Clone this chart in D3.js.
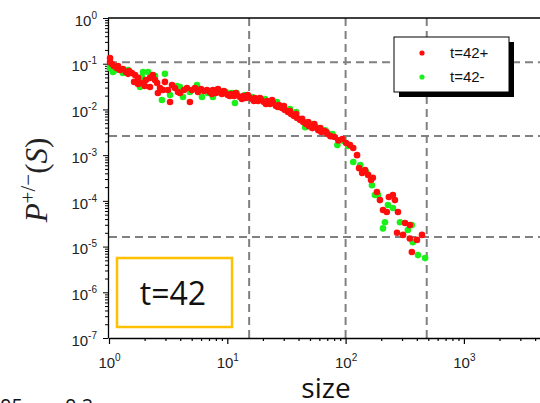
<!DOCTYPE html>
<html><head><meta charset="utf-8">
<script src="https://cdn.jsdelivr.net/npm/d3@7"></script>
<style>body{margin:0;background:#fff} svg{display:block}</style>
</head><body>
<svg id="c" width="540" height="403"></svg>
<script>
// ---- data ----
const plusSize = [1.02,1.02,1.06,1.10,1.17,1.24,1.31,1.39,1.48,1.56,1.66,1.63,1.76,1.86,2.01,2.22,2.35,2.45,2.55,2.59,2.70,2.86,2.97,3.15,3.28,3.41,3.61,3.83,3.98,4.30,4.56,4.83,5.03,5.33,5.65,5.99,6.35,6.73,7.13,7.56,8.02,8.50,9.01,9.55,10.1,10.7,11.4,12.0,12.8,13.6,14.4,15.2,16.2,17.1,18.2,19.3,20.4,21.7,23.0,24.4,25.8,27.3,29.0,30.7,32.6,34.6,36.7,38.9,41.3,43.8,46.4,49.2,52.3,55.5,58.8,62.4,66.2,70.2,74.4,80.5,86.9,93.9,101,109,116,125,130,138,146,155,164,170,184,195,207,223,232,251,261,277,272,306,318,349,349,401,442,363,
  7.41,8.34,9.37,10.5,11.8,13.3,14.9,16.8,18.9,21.2,23.9,26.8,30.1,33.9,38.2,42.9,48.3,54.4,61.2,68.8,1.19,1.45,2.05,1.76,2.22];
const plusProb = [0.133,0.109,0.098,0.089,0.080,0.073,0.0766,0.066,0.0692,0.0626,0.0566,0.040,0.036,0.0378,0.0325,0.0309,0.0566,0.044,0.0378,0.0229,0.0294,0.0266,0.040,0.0266,0.0145,0.0342,0.0294,0.024,0.0229,0.0266,0.0294,0.0145,0.0266,0.0294,0.024,0.0279,0.0253,0.0266,0.024,0.0266,0.0229,0.024,0.0217,0.0229,0.0207,0.0217,0.0196,0.0207,0.0187,0.0196,0.0178,0.0187,0.0169,0.0178,0.0153,0.0161,0.0145,0.0153,0.0131,0.0138,0.0119,0.0125,0.0107,0.0097,0.0088,0.0079,0.0072,0.0065,0.0059,0.0053,0.0048,0.0043,0.0039,0.0041,0.0035,0.0032,0.00337,0.0029,0.0026,0.00249,0.0021,0.00225,0.00184,0.00166,0.00143,0.00100,5.2e-4,4.06e-4,4.7e-4,3.7e-4,2.85e-4,3.2e-4,1.56e-4,1.04e-4,6.3e-5,5.7e-5,1.21e-4,1.34e-4,1.04e-4,5.7e-5,2.0e-5,1.8e-5,3.27e-5,2.95e-5,1.5e-5,1.4e-5,1.8e-5,7.6e-6,
  0.0217,0.0279,0.0253,0.0196,0.0229,0.0169,0.0207,0.0153,0.0178,0.0131,0.0161,0.0113,0.0119,0.0092,0.0079,0.0062,0.0053,0.0048,0.0039,0.0032,0.089,0.060,0.044,0.049,0.049];
const minusSize = [1.02,1.08,1.15,1.31,1.45,1.83,1.90,1.94,2.14,2.45,2.80,2.97,3.28,3.75,3.98,4.22,4.83,5.54,6.11,6.86,7.56,8.67,9.74,10.9,11.6,12.0,14.1,16.2,18.2,20.8,23.9,26.3,29.6,33.9,38.2,45.5,47.3,52.3,58.8,67.5,77.4,85.2,95.7,105,116,133,149,167,177,188,215,207,228,251,288,336,370,409,470,363];
const minusProb = [0.080,0.066,0.073,0.0626,0.073,0.0309,0.0512,0.066,0.066,0.054,0.0161,0.060,0.0207,0.0325,0.0309,0.0187,0.024,0.0342,0.0187,0.0229,0.0187,0.0253,0.024,0.0229,0.0138,0.0229,0.0207,0.0187,0.0169,0.0169,0.0145,0.0145,0.0119,0.0102,0.0088,0.0041,0.0050,0.0048,0.0039,0.0035,0.0029,0.00166,0.00204,0.00158,7.1e-4,6.1e-4,4.3e-4,2.2e-4,1.34e-4,1.34e-4,3.4e-5,2.5e-5,8.1e-5,7.0e-5,3.4e-5,2.3e-5,1.25e-5,6.5e-6,5.6e-6,2.95e-5];
const seriesNames = ["t=42+", "t=42-"];
const xTickExps = [0, 1, 2, 3];
const yTickExps = [0, -1, -2, -3, -4, -5, -6, -7];
const vLineSizes = [15.3, 100, 485];
const hLineProbs = [0.107, 0.00262, 1.61e-5];
const boxLabel = "t=42";
const xTitle = "size";
const strayTexts = ["05", "0.2"];

// ---- drawing ----
const svg = d3.select("#c");
const x = d3.scaleLog().domain([1, 1e4]).range([109, 109 + 4 * 118.3]);
const y = d3.scaleLog().domain([1e-7, 1]).range([338, 18]);
const FONT = "'Liberation Sans', Arial, sans-serif";

svg.append("rect").attr("width", 540).attr("height", 403).attr("fill", "#fff");

// dashed reference lines
const g = svg.append("g");
g.selectAll("line.v").data(vLineSizes).join("line")
  .attr("x1", d => x(d)).attr("x2", d => x(d)).attr("y1", y(1)).attr("y2", y(1e-7))
  .attr("stroke", "#808080").attr("stroke-width", 2).attr("stroke-dasharray", "8,5");
g.selectAll("line.h").data(hLineProbs).join("line")
  .attr("x1", x(1)).attr("x2", 540).attr("y1", d => y(d)).attr("y2", d => y(d))
  .attr("stroke", "#808080").attr("stroke-width", 2).attr("stroke-dasharray", "8,5");

// top frame
svg.append("line").attr("x1", x(1) - 1).attr("x2", 540).attr("y1", y(1)).attr("y2", y(1))
  .attr("stroke", "#000").attr("stroke-width", 1.3);

function powLabels(sel) {
  sel.each(function(d) {
    const e = Math.round(Math.log10(d));
    const t = d3.select(this);
    t.text(null);
    t.append("tspan").text("10");
    t.append("tspan").attr("dy", -7).attr("font-size", 10).text(e < 0 ? "-" + (-e) : String(e));
  });
}

// minor tick values
const minorX = [], minorY = [];
xTickExps.forEach(e => { for (let k = 2; k <= 9; k++) minorX.push(k * Math.pow(10, e)); });
yTickExps.forEach(e => { for (let k = 2; k <= 9; k++) { const v = k * Math.pow(10, e); if (v < 1) minorY.push(v); } });

// x axis
svg.append("g").attr("transform", "translate(0,338)")
  .call(d3.axisBottom(x).tickValues(minorX).tickSize(3).tickFormat(""))
  .call(s => s.select(".domain").remove());
const xMaj = svg.append("g").attr("transform", "translate(0,338)")
  .call(d3.axisBottom(x).tickValues(xTickExps.map(e => Math.pow(10, e))).tickSize(6).tickSizeOuter(0).tickPadding(13));
xMaj.selectAll("text").attr("font-family", FONT).attr("font-size", 15).attr("fill", "#222").call(powLabels);
svg.selectAll(".domain").attr("stroke-width", 1.3);
svg.selectAll(".tick line").attr("stroke-width", 1.2);

// y axis
svg.append("g").attr("transform", "translate(108,0)")
  .call(d3.axisLeft(y).tickValues(minorY).tickSize(3).tickFormat(""))
  .call(s => s.select(".domain").remove());
const yMaj = svg.append("g").attr("transform", "translate(108,0)")
  .call(d3.axisLeft(y).tickValues(yTickExps.map(e => Math.pow(10, e))).tickSize(5).tickSizeOuter(0).tickPadding(6));
yMaj.selectAll("text").attr("font-family", FONT).attr("font-size", 15).attr("fill", "#222").attr("dy", "0.48em").call(powLabels);
yMaj.select(".domain").attr("stroke-width", 1.3);

// points
const minus = minusSize.map((s, i) => [s, minusProb[i]]);
const plus = plusSize.map((s, i) => [s, plusProb[i]]);
svg.append("g").selectAll("circle").data(minus).join("circle")
  .attr("cx", d => x(d[0])).attr("cy", d => y(d[1])).attr("r", 3.3).attr("fill", "#1cf01c");
svg.append("g").selectAll("circle").data(plus).join("circle")
  .attr("cx", d => x(d[0])).attr("cy", d => y(d[1])).attr("r", 3.3).attr("fill", "#ff0d0d");

// legend
const lg = svg.append("g");
lg.append("rect").attr("x", 399).attr("y", 42).attr("width", 115).attr("height", 55).attr("fill", "#000");
lg.append("rect").attr("x", 394).attr("y", 37).attr("width", 115).attr("height", 55).attr("fill", "#fff").attr("stroke", "#000").attr("stroke-width", 1);
const colors = ["#ff0d0d", "#1cf01c"];
seriesNames.forEach((n, i) => {
  lg.append("circle").attr("cx", 422).attr("cy", 53 + i * 24).attr("r", 2.6).attr("fill", colors[i]);
  lg.append("text").attr("x", 450).attr("y", 58 + i * 24).attr("font-family", FONT).attr("font-size", 15).attr("fill", "#111").text(n);
});

// gold box
svg.append("rect").attr("x", 117).attr("y", 258).attr("width", 115).attr("height", 69)
  .attr("fill", "#fff").attr("stroke", "#FFC000").attr("stroke-width", 2.5);
svg.append("text").attr("x", 173).attr("y", 305).attr("text-anchor", "middle")
  .attr("font-family", "'Open Sans', sans-serif").attr("font-size", 32).attr("fill", "#111").text(boxLabel);

// axis titles
svg.append("text").attr("x", 326).attr("y", 398).attr("text-anchor", "middle")
  .attr("font-family", "'Open Sans', sans-serif").attr("font-size", 28).attr("fill", "#111").text(xTitle);

const yt = svg.append("text").attr("transform", "translate(47,180) rotate(-90)").attr("text-anchor", "middle")
  .attr("font-family", "'Liberation Serif', 'Times New Roman', serif").attr("font-size", 31).attr("fill", "#222");
yt.append("tspan").attr("font-style", "italic").text("P");
yt.append("tspan").attr("dy", -12).attr("font-size", 21).text("+/\u2212");
yt.append("tspan").attr("dy", 12).text("(");
yt.append("tspan").attr("font-style", "italic").text("S");
yt.append("tspan").text(")");

// cut-off texts at bottom-left
svg.append("text").attr("x", 0).attr("y", 413).attr("font-family", "'Open Sans', sans-serif").attr("font-size", 20).attr("fill", "#111").text(strayTexts[0]);
svg.append("text").attr("x", 65).attr("y", 413).attr("font-family", "'Open Sans', sans-serif").attr("font-size", 20).attr("fill", "#111").text(strayTexts[1]);
</script>
</body></html>
